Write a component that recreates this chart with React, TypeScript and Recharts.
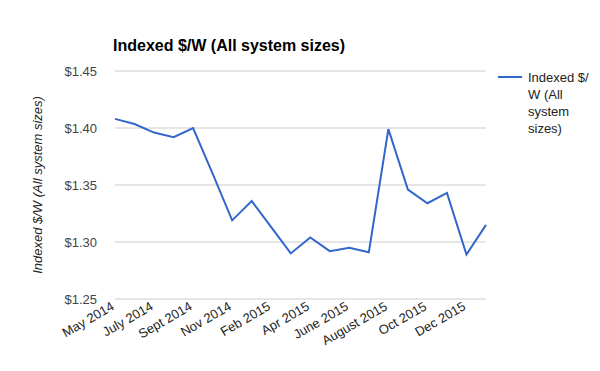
import { CartesianGrid, Label, Line, LineChart, XAxis, YAxis } from "recharts";

const months = [
  "May 2014", "June 2014", "July 2014", "Aug 2014", "Sept 2014", "Oct 2014",
  "Nov 2014", "Jan 2015", "Feb 2015", "Mar 2015", "Apr 2015", "May 2015",
  "June 2015", "July 2015", "August 2015", "Sept 2015", "Oct 2015", "Nov 2015",
  "Dec 2015", "Jan 2016",
];
const indexedPrice = [
  1.408, 1.4035, 1.396, 1.392, 1.4, 1.36, 1.319, 1.336, 1.313, 1.29,
  1.304, 1.292, 1.295, 1.291, 1.399, 1.346, 1.334, 1.343, 1.289, 1.315,
];
const yTicks = [1.25, 1.3, 1.35, 1.4, 1.45];
const seriesName = "Indexed $/W (All system sizes)";
const legendLines = ["Indexed $/", "W (All", "system", "sizes)"];

const data = months.map((month, i) => ({ month, value: indexedPrice[i] }));

const font = "'Liberation Sans', Arial, sans-serif";

const XTick = (props: any) => {
  const { x, y, payload } = props;
  return (
    <text
      x={x}
      y={y}
      transform={`rotate(-30, ${x}, ${y})`}
      textAnchor="end"
      fontSize={13}
      fill="#222"
      fontFamily={font}
    >
      {payload.value}
    </text>
  );
};

// legend drawn as plain html next to the plot
const SeriesLegend = () => (
  <div
    style={{
      position: "absolute",
      left: 498,
      top: 69,
      display: "flex",
      fontFamily: font,
      fontSize: 13,
      color: "#222",
    }}
  >
    <div style={{ width: 24, height: 2, background: "#3366cc", marginTop: 7, marginRight: 6 }} />
    <div style={{ lineHeight: "17px" }}>
      {legendLines.map((l) => (
        <div key={l}>{l}</div>
      ))}
    </div>
  </div>
);

export default function App() {
  return (
    <div style={{ position: "absolute", left: 0, top: 0, width: 600, height: 371, background: "#fff" }}>
      <div
        style={{
          position: "absolute",
          left: 113,
          top: 37,
          fontFamily: font,
          fontWeight: "bold",
          fontSize: 16,
          color: "#000",
        }}
      >
        {seriesName}
      </div>
      <LineChart width={600} height={371} data={data} margin={{ top: 71, right: 114, left: 0, bottom: 0 }}>
        <CartesianGrid vertical={false} stroke="#ccc" />
        <XAxis
          dataKey="month"
          interval={1}
          tickLine={false}
          axisLine={false}
          height={72}
          tick={<XTick />}
          tickMargin={4}
        />
        <YAxis
          width={115}
          domain={[1.25, 1.45]}
          ticks={yTicks}
          tickFormatter={(v: number) => `$${v.toFixed(2)}`}
          tickLine={false}
          axisLine={false}
          tickMargin={12}
          tick={{ fontSize: 13, fill: "#444", fontFamily: font }}
        >
          <Label
            content={() => (
              <text
                x={42}
                y={185}
                transform="rotate(-90, 42, 185)"
                textAnchor="middle"
                fontSize={13}
                fontStyle="italic"
                fill="#222"
                fontFamily={font}
              >
                {seriesName}
              </text>
            )}
          />
        </YAxis>
        <Line
          type="linear"
          dataKey="value"
          name={seriesName}
          stroke="#3366cc"
          strokeWidth={2}
          dot={false}
          isAnimationActive={false}
        />
      </LineChart>
      <SeriesLegend />
    </div>
  );
}
